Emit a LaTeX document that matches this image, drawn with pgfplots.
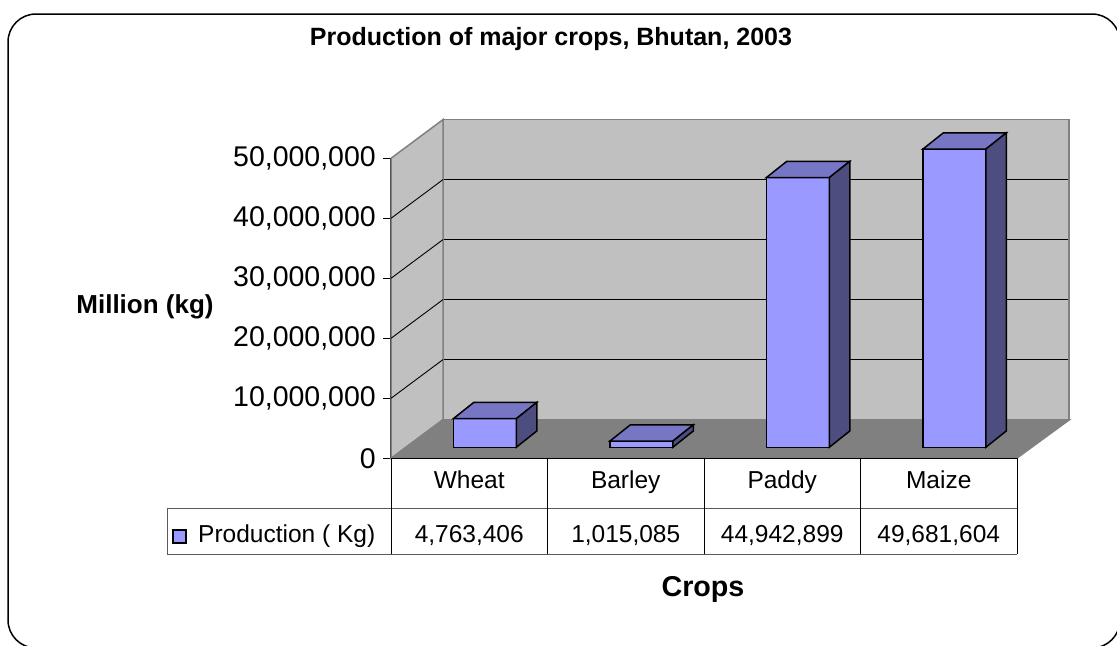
\documentclass[border=0pt]{standalone}
\usepackage{pgfplots}
\pgfplotsset{compat=1.18}
\usepackage{pgfplotstable}
\usepackage{fontspec}
\setmainfont{Liberation Sans}
\usetikzlibrary{calc}

\definecolor{wall}{HTML}{C0C0C0}
\definecolor{floorc}{HTML}{808080}
\definecolor{barfront}{HTML}{9999FF}
\definecolor{bartop}{HTML}{7676C4}
\definecolor{barside}{HTML}{4D4D80}

\newcommand{\fs}[1]{\fontsize{#1bp}{#1bp}\selectfont}

\pgfplotstableread{
x crop kg
0 Wheat 4763406
1 Barley 1015085
2 Paddy 44942899
3 Maize 49681604
}\croptable

% top and side faces of a 3-D bar; the mark sits at the middle of the front top edge
\pgfdeclareplotmark{bar3d}{%
  \filldraw[fill=bartop, draw=black, line width=1.5bp]
    (-31.5bp,0pt) -- (31.5bp,0pt) -- (52bp,16.3bp) -- (-11bp,16.3bp) -- cycle;
  \filldraw[fill=barside, draw=black, line width=1.5bp]
    (31.5bp,0pt) -- (52bp,16.3bp) -- ($(52bp,0pt |- base)+(0pt,16.3bp)$) -- (31.5bp,0pt |- base) -- cycle;
}

\begin{document}
\begin{tikzpicture}
\useasboundingbox (0,0) rectangle (1117bp,-646bp);

% ---------- back wall ----------
\begin{axis}[
  at={(443bp,-419.3bp)}, anchor=south west, scale only axis,
  width=626bp, height=300bp,
  xmin=-0.5, xmax=3.5, ymin=0, ymax=50000000,
  axis background/.style={fill=wall},
  axis line style={draw=floorc, line width=1.5bp},
  xtick=\empty,
  ytick={10000000,20000000,30000000,40000000},
  yticklabels={}, major tick length=0pt,
  ymajorgrids, grid style={black, line width=0.9bp},
  scaled y ticks=false,
]
\end{axis}

% ---------- front plane: side wall, floor, value axis ----------
\begin{axis}[
  at={(391bp,-458.3bp)}, anchor=south west, scale only axis,
  width=626bp, height=300bp,
  xmin=-0.5, xmax=3.5, ymin=0, ymax=50000000,
  axis x line=none, axis y line*=left,
  y axis line style={black, line width=1.3bp, -},
  ytick={0,10000000,20000000,30000000,40000000,50000000},
  tick align=outside, major tick length=8bp,
  tick style={black, line width=1bp},
  scaled y ticks=false,
  yticklabel style={font=\fs{28.5}, inner sep=0pt, xshift=-7bp,
    /pgf/number format/fixed, /pgf/number format/precision=0,
    /pgf/number format/1000 sep={,}, /pgf/number format/assume math mode=true},
  clip=false,
]
\filldraw[fill=wall, draw=floorc, line width=1.5bp]
  (axis cs:-0.5,0) -- (axis cs:-0.5,50000000)
  -- ([shift={(52bp,38.7bp)}]axis cs:-0.5,50000000)
  -- ([shift={(52bp,38.7bp)}]axis cs:-0.5,0) -- cycle;
\pgfplotsinvokeforeach{10000000,20000000,30000000,40000000}{
  \draw[black, line width=0.9bp] (axis cs:-0.5,#1) -- ++(52bp,38.7bp);
}
\filldraw[fill=floorc, draw=floorc, line width=1bp]
  (axis cs:-0.5,0) -- (axis cs:3.5,0)
  -- ([shift={(53bp,38.7bp)}]axis cs:3.5,0)
  -- ([shift={(52bp,38.7bp)}]axis cs:-0.5,0) -- cycle;
\end{axis}

% ---------- bars ----------
\begin{axis}[
  at={(406.5bp,-447.3bp)}, anchor=south west, scale only axis,
  width=626bp, height=300bp,
  xmin=-0.5, xmax=3.5, ymin=0, ymax=50000000,
  hide axis, clip=false,
]
\coordinate (base) at (axis cs:0,0);
\addplot[ybar, bar width=63bp, fill=barfront, draw=black, line width=1.5bp]
  table[x=x, y=kg] {\croptable};
\addplot[only marks, mark=bar3d] table[x=x, y=kg] {\croptable};
\end{axis}

% ---------- data table, titles, frame ----------
\begin{scope}[x=1bp, y=-1bp]
  \draw[black, line width=1.3bp] (391,458.3) -- (1017,458.3);
  \draw[black!65, line width=1bp] (167,508) -- (1017,508) (167,554.3) -- (1017,554.3);
  \draw[black!65, line width=1bp] (167,508) -- (167,554.3);
  \foreach \xx in {391,547.5,704,860.5,1017}
    \draw[black, line width=1bp] (\xx,458.3) -- (\xx,554.3);
  \foreach \xx/\t in {469.25/Wheat,625.75/Barley,782.25/Paddy,938.75/Maize}
    \node[anchor=base, inner sep=0pt, font=\fs{24.5}] at (\xx,488) {\t};
  \foreach \xx/\t in {469.25/{4,763,406},625.75/{1,015,085},782.25/{44,942,899},938.75/{49,681,604}}
    \node[anchor=base, inner sep=0pt, font=\fs{24.5}] at (\xx,542) {\t};
  \filldraw[fill=barfront, draw=black, line width=1.2bp] (173,530) rectangle (186,543);
  \node[anchor=base west, inner sep=0pt, font=\fs{24.5}] at (198,542) {Production ( Kg)};

  \node[anchor=base, inner sep=0pt, font=\fs{25}\bfseries] at (551,45) {Production of major crops, Bhutan, 2003};
  \node[anchor=base, inner sep=0pt, font=\fs{26}\bfseries] at (145,313.3) {Million (kg)};
  \node[anchor=base, inner sep=0pt, font=\fs{28.7}\bfseries] at (703,596.7) {Crops};

  \draw[black, line width=1.5bp, rounded corners=28bp] (8,14) rectangle (1120,648);
\end{scope}
\end{tikzpicture}
\end{document}
